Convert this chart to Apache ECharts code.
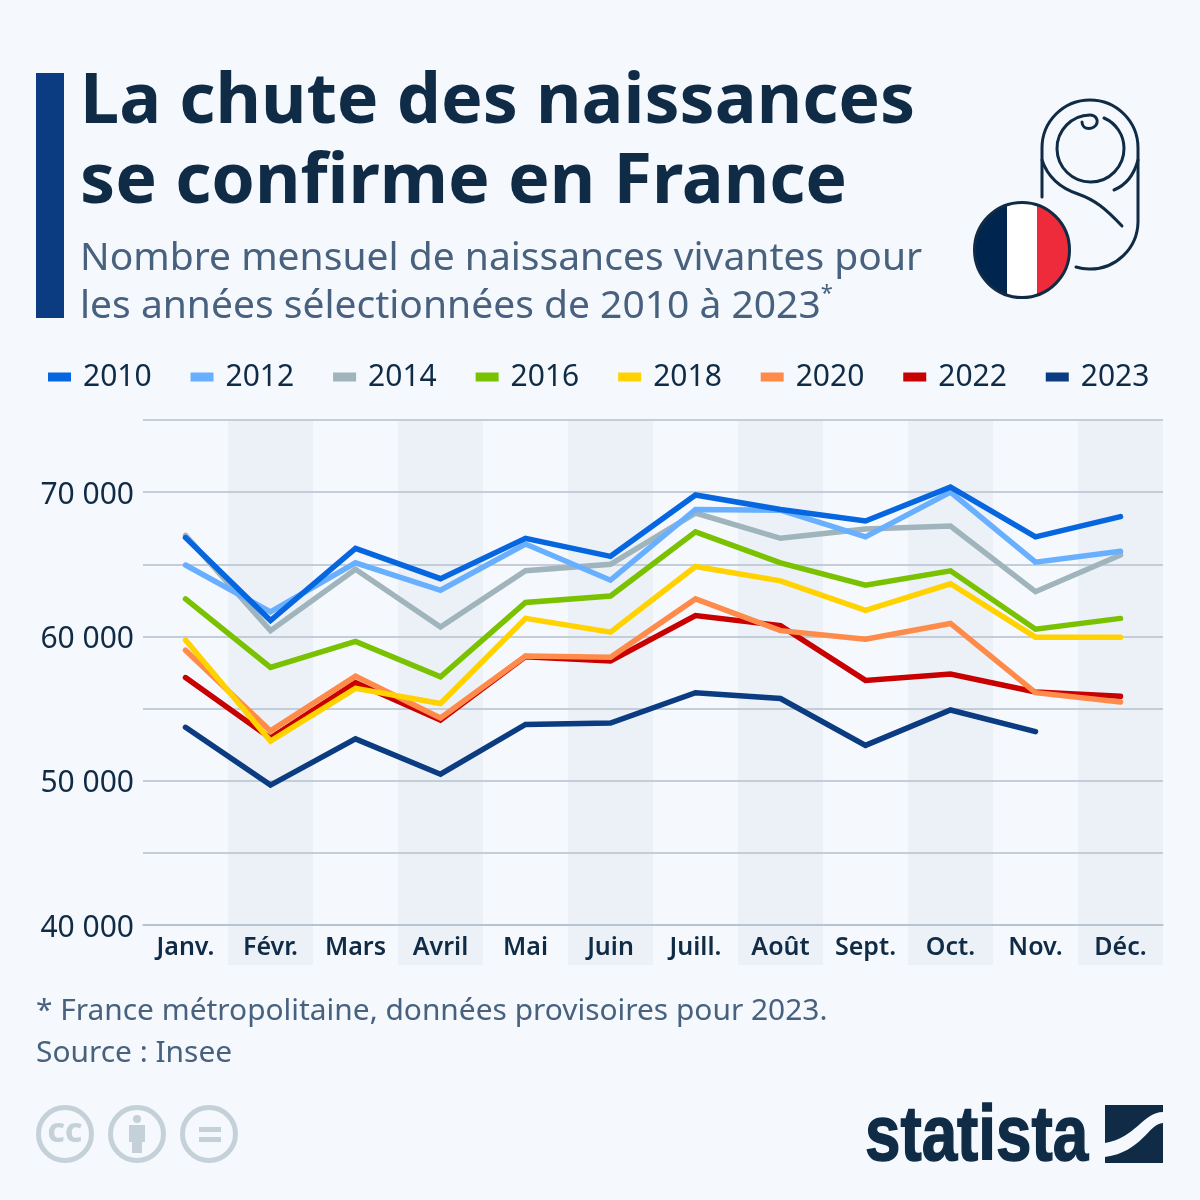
<!DOCTYPE html>
<html>
<head>
<meta charset="utf-8">
<title>La chute des naissances se confirme en France</title>
<style>
  html, body { margin: 0; padding: 0; background: #f5f8fc; }
  #chart { width: 1200px; height: 1200px; }
</style>
<script src="https://cdn.jsdelivr.net/npm/echarts@6/dist/echarts.min.js"></script>
</head>
<body>
<div id="chart"></div>
<script>
// données
const months = ['Janv.', 'Févr.', 'Mars', 'Avril', 'Mai', 'Juin', 'Juill.', 'Août', 'Sept.', 'Oct.', 'Nov.', 'Déc.'];
const years = ['2010', '2012', '2014', '2016', '2018', '2020', '2022', '2023'];
const births2010 = [66850, 61100, 66100, 64000, 66800, 65550, 69800, 68800, 68000, 70350, 66900, 68300];
const births2012 = [64950, 61700, 65100, 63200, 66400, 63900, 68800, 68750, 66900, 70000, 65150, 65900];
const births2014 = [67000, 60400, 64650, 60650, 64550, 65000, 68550, 66800, 67450, 67650, 63100, 65650];
const births2016 = [62600, 57850, 59650, 57200, 62350, 62800, 67250, 65100, 63550, 64550, 60500, 61250];
const births2018 = [59750, 52750, 56400, 55350, 61250, 60300, 64850, 63850, 61800, 63650, 59950, 59950];
const births2020 = [59050, 53450, 57250, 54350, 58650, 58550, 62600, 60400, 59800, 60900, 56100, 55450];
const births2022 = [57150, 52950, 56800, 54200, 58600, 58300, 61450, 60750, 56950, 57400, 56150, 55850];
const births2023 = [53700, 49700, 52900, 50450, 53900, 54000, 56100, 55700, 52450, 54900, 53400, null];
const yearColors = ['#0666e0', '#68b0ff', '#a0b4bc', '#7ac200', '#ffd200', '#ff8b4b', '#c80000', '#0b3b80'];
const yLabels = { 40000: '40 000', 50000: '50 000', 60000: '60 000', 70000: '70 000' };

const allBirths = [births2010, births2012, births2014, births2016, births2018, births2020, births2022, births2023];

const FONT = '"Noto Sans", "Open Sans", sans-serif';
const DARK = '#0f2b46';
const GREY = '#47617f';
const ICON = '#c5d1d9';
const GRIDLINE = '#b4c0cc';
const BAND = '#ecf1f8';

const chart = echarts.init(document.getElementById('chart'));

const series = years.map((y, i) => ({
  name: y,
  type: 'line',
  data: allBirths[i],
  symbol: 'none',
  z: 20 - i, // 2010 au-dessus
  itemStyle: { color: yearColors[i] },
  lineStyle: { color: yearColors[i], width: 5.5, cap: 'round', join: 'miter' }
}));

// graphic n'accepte pas type:'path', on enregistre une forme par tracé
let shapeCount = 0;
function pathType(d) {
  const name = 'deco' + (shapeCount++);
  echarts.graphic.registerShape(name, echarts.graphic.extendPath(d, {}));
  return name;
}

// icône bébé + drapeau + logos
const strokeEl = (d, color, w) => ({
  type: pathType(d),
  style: { fill: 'none', stroke: color, lineWidth: w, lineCap: 'round' }
});
const fillEl = (d, color) => ({
  type: pathType(d),
  style: { fill: color }
});
const ringEl = (cx, cy) => ({
  type: 'circle',
  shape: { cx: cx, cy: cy, r: 26.5 },
  style: { fill: 'none', stroke: ICON, lineWidth: 5 }
});

const decorations = [
  { type: 'rect', shape: { x: 36, y: 73, width: 28, height: 245 }, style: { fill: '#0b3b80' } },

  strokeEl('M1042 197 V148 A48 48 0 0 1 1138 148 V222 A48 48 0 0 1 1076 267', DARK, 3),
  strokeEl('M1104 118 A33 33 0 0 1 1124 148 A33.5 33.5 0 1 1 1090 115 C1096 115 1098 120 1097 123 C1095 130 1082 131 1082 122', DARK, 3),
  strokeEl('M1042 160 C1048 178 1060 188 1078 194 C1095 200 1105 208 1122 226', DARK, 3),
  strokeEl('M1138 160 C1134 175 1126 185 1114 190', DARK, 3),

  { type: 'circle', shape: { cx: 1022, cy: 250, r: 47 }, style: { fill: '#ffffff' } },
  fillEl('M1007 205.5 A47 47 0 0 0 1007 294.5 Z', '#00254f'),
  fillEl('M1037 205.5 A47 47 0 0 1 1037 294.5 Z', '#ee2b3b'),
  { type: 'circle', shape: { cx: 1022, cy: 250, r: 47.5 }, style: { fill: 'none', stroke: DARK, lineWidth: 3 } },

  ringEl(65, 1134),
  { type: 'text', x: 65, y: 1134, style: { text: 'CC', font: '800 27px "Open Sans"', fill: ICON, align: 'center', verticalAlign: 'middle' } },
  ringEl(137, 1134),
  { type: 'circle', shape: { cx: 137, cy: 1119, r: 4 }, style: { fill: ICON } },
  fillEl('M129 1125 H145 V1142 H142 V1153 H132 V1142 H129 Z', ICON),
  ringEl(209, 1134),
  { type: 'rect', shape: { x: 199, y: 1127, width: 22, height: 5 }, style: { fill: ICON } },
  { type: 'rect', shape: { x: 199, y: 1137, width: 22, height: 5 }, style: { fill: ICON } },

  { type: 'text', x: 865, y: 1138, scaleX: 0.817, style: { text: 'statista', font: 'bold 78px "Liberation Sans"', fill: DARK, stroke: DARK, lineWidth: 1.5, align: 'left', verticalAlign: 'middle' } },
  fillEl('M1105 1105 H1163 V1112 C1143 1112 1136 1138 1105 1143 Z', DARK),
  fillEl('M1163 1123 C1148 1124 1142 1152 1105 1157 V1163 H1163 Z', DARK)
];

chart.setOption({
  backgroundColor: '#f5f8fc',
  animation: false,
  textStyle: { fontFamily: FONT },
  title: [
    {
      text: 'La chute des naissances\nse confirme en France',
      left: 80, top: 63, padding: 0,
      textStyle: { fontFamily: FONT, fontSize: 70, fontWeight: 700, color: DARK, lineHeight: 80 }
    },
    {
      text: 'Nombre mensuel de naissances vivantes pour\nles années sélectionnées de 2010 à 2023{sup|*}',
      left: 80, top: 235, padding: 0,
      textStyle: {
        fontFamily: FONT, fontSize: 39, fontWeight: 400, color: GREY, lineHeight: 48,
        rich: { sup: { fontFamily: FONT, fontSize: 22, color: GREY, lineHeight: 48, verticalAlign: 'top', padding: [0, 0, 14, 0] } }
      }
    },
    {
      text: '* France métropolitaine, données provisoires pour 2023.\nSource : Insee',
      left: 36, top: 990, padding: 0,
      textStyle: { fontFamily: FONT, fontSize: 29.9, fontWeight: 400, color: GREY, lineHeight: 42 }
    }
  ],
  legend: {
    data: years,
    left: 48, top: 362, padding: 0,
    icon: 'rect',
    itemWidth: 23, itemHeight: 9, itemGap: 38.9,
    selectedMode: false,
    textStyle: { fontFamily: FONT, fontSize: 30, color: DARK, padding: [0, 0, 0, 7] }
  },
  grid: { left: 143, right: 37, top: 420, height: 505, containLabel: false },
  xAxis: {
    type: 'category',
    data: months,
    boundaryGap: true,
    axisTick: { show: false },
    axisLine: { show: true, lineStyle: { color: GRIDLINE, width: 1.5 } },
    axisLabel: { interval: 0, margin: 10, fontFamily: FONT, fontSize: 25, fontWeight: 600, color: DARK }
  },
  yAxis: {
    type: 'value',
    min: 40000, max: 75000, interval: 5000,
    axisLine: { show: false },
    axisTick: { show: false },
    axisLabel: {
      margin: 9, fontFamily: FONT, fontSize: 30, color: DARK, verticalAlign: 'top', lineHeight: 6,
      formatter: v => yLabels[v] || ''
    },
    splitLine: { show: true, lineStyle: { color: GRIDLINE, width: 1.5 } }
  },
  series: series
});

// bandes d'un mois sur deux, du haut du graphique jusque sous les libellés
const bandWidth = chart.convertToPixel({ xAxisIndex: 0 }, 1) - chart.convertToPixel({ xAxisIndex: 0 }, 0);
const topY = chart.convertToPixel({ yAxisIndex: 0 }, 75000);
const axisY = chart.convertToPixel({ yAxisIndex: 0 }, 40000);
const bandRects = months
  .map((m, i) => i)
  .filter(i => i % 2 === 1)
  .map(i => ({
    type: 'rect',
    z: -1,
    shape: {
      x: chart.convertToPixel({ xAxisIndex: 0 }, i) - bandWidth / 2,
      y: topY,
      width: bandWidth,
      height: axisY - topY + 40
    },
    style: { fill: BAND }
  }));
chart.setOption({ graphic: { elements: bandRects.concat(decorations) } });
</script>
</body>
</html>
